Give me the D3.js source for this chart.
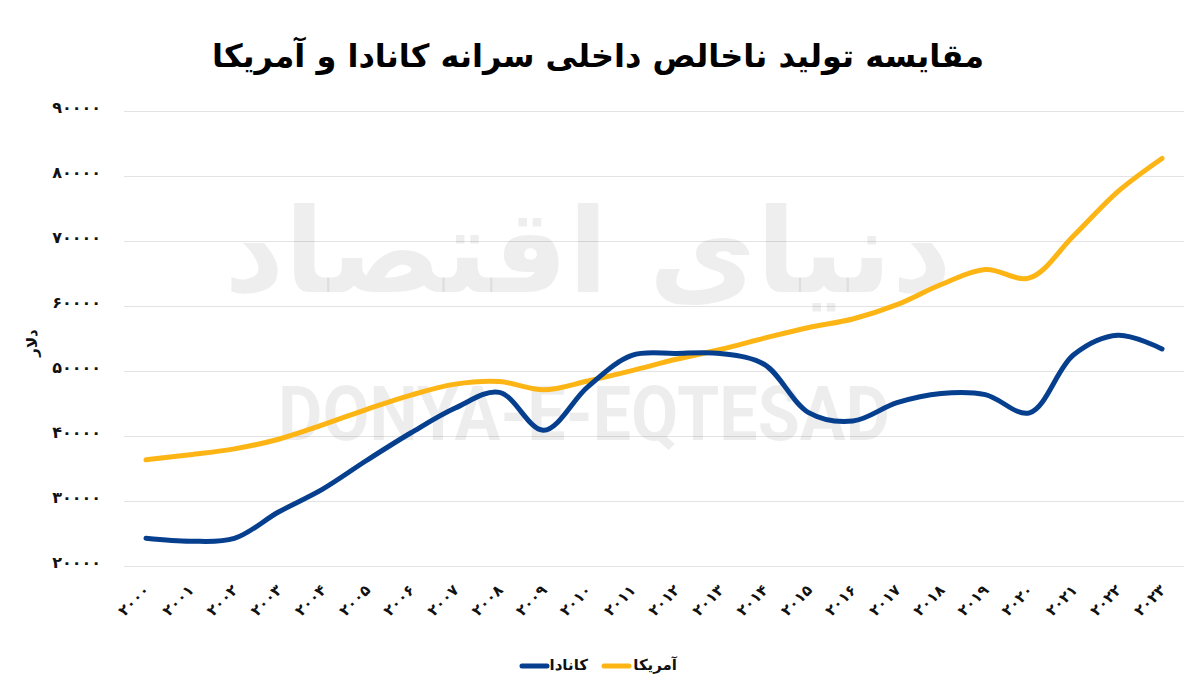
<!DOCTYPE html>
<html><head><meta charset="utf-8">
<script src="https://cdn.jsdelivr.net/npm/d3@7"></script>
<style>
html,body{margin:0;padding:0;background:#fff;}
svg{display:block;}
.fa{font-family:"DejaVu Sans",sans-serif;font-weight:bold;}
</style></head>
<body>
<svg id="chart" width="1200" height="693"></svg>
<script>
const years = ["2000","2001","2002","2003","2004","2005","2006","2007","2008","2009","2010","2011","2012","2013","2014","2015","2016","2017","2018","2019","2020","2021","2022","2023"];
const yearLabels = ["۲۰۰۰","۲۰۰۱","۲۰۰۲","۲۰۰۳","۲۰۰۴","۲۰۰۵","۲۰۰۶","۲۰۰۷","۲۰۰۸","۲۰۰۹","۲۰۱۰","۲۰۱۱","۲۰۱۲","۲۰۱۳","۲۰۱۴","۲۰۱۵","۲۰۱۶","۲۰۱۷","۲۰۱۸","۲۰۱۹","۲۰۲۰","۲۰۲۱","۲۰۲۲","۲۰۲۳"];
const canada = [24270,23820,24250,28300,31830,36270,40500,44300,46710,40880,47560,52400,52700,52700,51000,43600,42300,45130,46550,46370,43560,52500,55500,53400];
const usa = [36330,37130,38020,39500,41710,44110,46300,47980,48380,47100,48470,50060,51800,53300,55050,56700,58000,60200,63300,65600,64320,70800,77600,82700];
const yTicks = [20000,30000,40000,50000,60000,70000,80000,90000];
const yTickLabels = ["۲۰۰۰۰","۳۰۰۰۰","۴۰۰۰۰","۵۰۰۰۰","۶۰۰۰۰","۷۰۰۰۰","۸۰۰۰۰","۹۰۰۰۰"];
const seriesNames = ["کانادا","آمریکا"];
const titleText = "مقایسه تولید ناخالص داخلی سرانه کانادا و آمریکا";
const yAxisTitle = "دلار";

const colors = {canada:"#063f8e", usa:"#fdb515"};
const svg = d3.select("#chart");

const gridLeft = 124, gridRight = 1184;
const x = d3.scalePoint().domain(years).range([146, 1162]);
const y = d3.scaleLinear().domain([20000, 90000]).range([566, 111]);

// Title
svg.append("text").attr("class","fa")
  .attr("x", 598).attr("y", 67).attr("text-anchor","middle")
  .attr("font-size", 32).attr("fill","#000").attr("direction","rtl")
  .text(titleText);

// Y axis with gridlines
const yAxis = d3.axisLeft(y).tickValues(yTicks)
  .tickSize(-(gridRight-gridLeft)).tickPadding(23)
  .tickFormat((d,i)=>yTickLabels[i]);
const gy = svg.append("g").attr("transform",`translate(${gridLeft},0)`).call(yAxis);
gy.select(".domain").remove();
gy.selectAll(".tick line").attr("stroke","#e3e3e3").attr("stroke-width",1.2);
gy.selectAll(".tick text").attr("class","fa").attr("font-size",16).attr("fill","#111").attr("dy","0.1em");

// Watermarks
svg.append("text").attr("class","fa")
  .attr("x", 588).attr("y", 292).attr("text-anchor","middle")
  .attr("font-size", 117).attr("fill","#000").attr("fill-opacity",0.065)
  .attr("direction","rtl")
  .text("دنیای اقتصاد");
svg.append("text")
  .attr("x", 278).attr("y", 440)
  .attr("font-family","Roboto, sans-serif").attr("font-weight","bold")
  .attr("font-size", 76).attr("fill","#000").attr("fill-opacity",0.07)
  .attr("textLength", 612).attr("lengthAdjust","spacingAndGlyphs")
  .text("DONYA-E-EQTESAD");

// X axis labels
const xAxis = d3.axisBottom(x).tickSize(0).tickFormat((d,i)=>yearLabels[i]);
const gx = svg.append("g").attr("transform","translate(0,566)").call(xAxis);
gx.select(".domain").remove();
gx.selectAll(".tick text").attr("class","fa").attr("font-size",15).attr("fill","#111")
  .attr("text-anchor","end").attr("y",0).attr("dy",0)
  .attr("transform","translate(4,25) rotate(-45)");

// Y axis title
svg.append("text").attr("class","fa")
  .attr("transform","translate(37,343) rotate(-90)")
  .attr("text-anchor","middle").attr("font-size",15).attr("fill","#111")
  .text(yAxisTitle);

// Lines
const line = d3.line().x((d,i)=>x(years[i])).y(d=>y(d)).curve(d3.curveCatmullRom.alpha(0.5));
svg.append("path").datum(usa).attr("d",line).attr("fill","none")
  .attr("stroke",colors.usa).attr("stroke-width",5).attr("stroke-linecap","round").attr("stroke-linejoin","round");
svg.append("path").datum(canada).attr("d",line).attr("fill","none")
  .attr("stroke",colors.canada).attr("stroke-width",5).attr("stroke-linecap","round").attr("stroke-linejoin","round");

// Legend
const legend = [
  {name: seriesNames[1], color: colors.usa, textRight: 677, lineX1: 604, lineX2: 629},
  {name: seriesNames[0], color: colors.canada, textRight: 588, lineX1: 522, lineX2: 547}
];
legend.forEach(l=>{
  svg.append("line").attr("x1",l.lineX1).attr("x2",l.lineX2).attr("y1",666).attr("y2",666)
    .attr("stroke",l.color).attr("stroke-width",5).attr("stroke-linecap","round");
  svg.append("text").attr("class","fa").attr("x",l.textRight).attr("y",670)
    .attr("text-anchor","start").attr("direction","rtl").attr("font-size",15).attr("fill","#111")
    .text(l.name);
});
</script>
</body></html>
